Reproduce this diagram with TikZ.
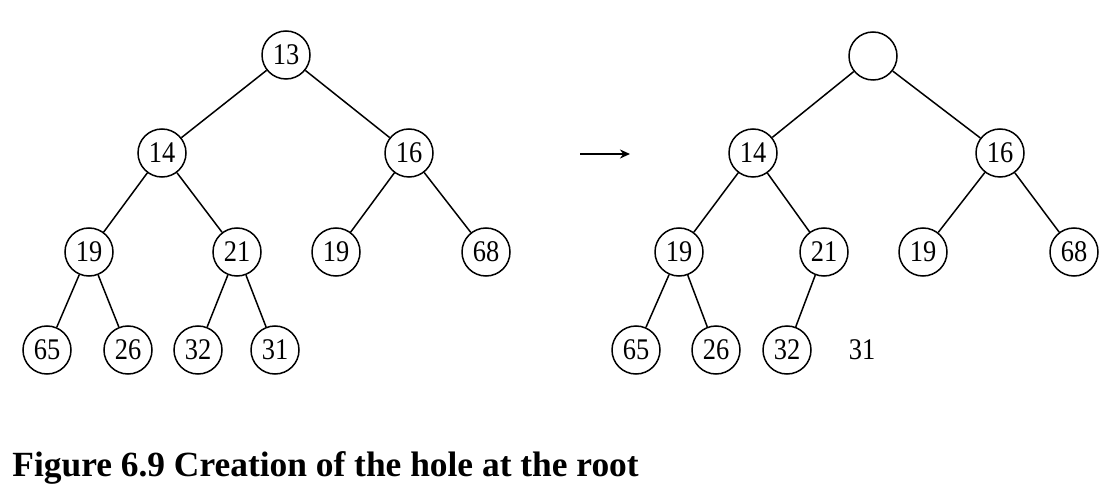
\documentclass[tikz,border=0pt]{standalone}
\usepackage{fontspec}
\setmainfont{Liberation Serif}
\newfontfamily\heapdigits[FakeStretch=0.88]{Liberation Serif}
\usepackage{tikz}
\usetikzlibrary{arrows.meta}
\usetikzlibrary{positioning}

\begin{document}
\begin{tikzpicture}[x=0.5pt,y=-0.5pt,
		heapnode/.style={draw,circle,minimum size=24pt,inner sep=0pt,line width=0.75pt,font=\heapdigits\fontsize{15}{15}\selectfont},
		treeedge/.style={line width=0.75pt}]
		\useasboundingbox (0,0) rectangle (1118,486);

		% heap before the root is taken out
		\node [heapnode] (l13) at (286,55) {13};
		\node [heapnode] (l14) at (162,153) {14};
		\node [heapnode] (l16) at (409,153) {16};
		\node [heapnode] (l19) at (89,252) {19};
		\node [heapnode] (l21) at (237,252) {21};
		\node [heapnode] (l19b) at (336,252) {19};
		\node [heapnode] (l68) at (486,252) {68};
		\node [heapnode] (l65) at (47,350) {65};
		\node [heapnode] (l26) at (128,350) {26};
		\node [heapnode] (l32) at (198,350) {32};
		\node [heapnode] (l31) at (275,350) {31};

		\draw [treeedge] (l13) -- (l14);
		\draw [treeedge] (l13) -- (l16);
		\draw [treeedge] (l14) -- (l19);
		\draw [treeedge] (l14) -- (l21);
		\draw [treeedge] (l16) -- (l19b);
		\draw [treeedge] (l16) -- (l68);
		\draw [treeedge] (l19) -- (l65);
		\draw [treeedge] (l19) -- (l26);
		\draw [treeedge] (l21) -- (l32);
		\draw [treeedge] (l21) -- (l31);

		% arrow between the two heaps
		\coordinate (arrowstart) at (580,154);
		\coordinate (arrowend) at (630,154);
		\draw [line width=1pt,-{Stealth[length=5pt,width=4.5pt]}] (arrowstart) -- (arrowend);

		% heap with the hole at the root
		\node [heapnode] (rhole) at (873,56) {};
		\node [heapnode] (r14) at (753,153) {14};
		\node [heapnode] (r16) at (1000,153) {16};
		\node [heapnode] (r19) at (679,252) {19};
		\node [heapnode] (r21) at (824,252) {21};
		\node [heapnode] (r19b) at (923,252) {19};
		\node [heapnode] (r68) at (1074,252) {68};
		\node [heapnode] (r65) at (636,350) {65};
		\node [heapnode] (r26) at (716,350) {26};
		\node [heapnode] (r32) at (787,350) {32};
		\node [font=\heapdigits\fontsize{15}{15}\selectfont] (r31) at (862,350) {31};

		\draw [treeedge] (rhole) -- (r14);
		\draw [treeedge] (rhole) -- (r16);
		\draw [treeedge] (r14) -- (r19);
		\draw [treeedge] (r14) -- (r21);
		\draw [treeedge] (r16) -- (r19b);
		\draw [treeedge] (r16) -- (r68);
		\draw [treeedge] (r19) -- (r65);
		\draw [treeedge] (r19) -- (r26);
		\draw [treeedge] (r21) -- (r32);

		\node [anchor=base west,font=\bfseries\fontsize{17.7}{20}\selectfont,inner sep=0pt] (caption) at (12,476) {Figure 6.9 Creation of the hole at the root};
	\end{tikzpicture}
\end{document}
